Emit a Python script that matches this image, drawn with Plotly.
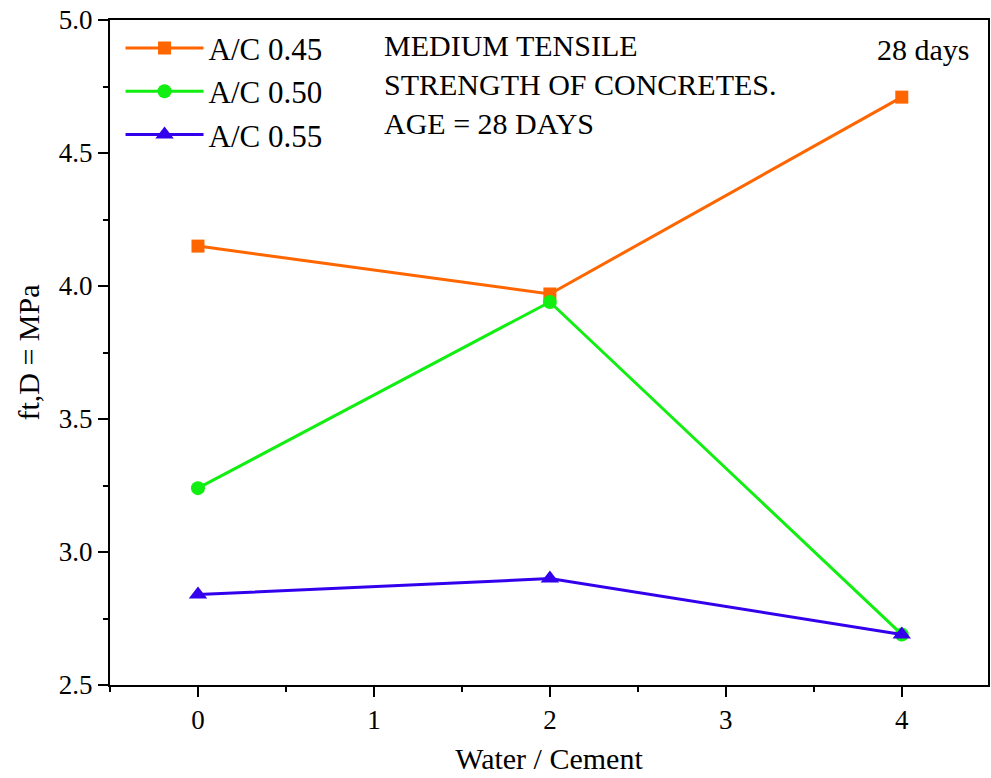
import plotly.graph_objects as go

x_vals = [0, 2, 4]
ac045 = [4.15, 3.97, 4.71]
ac050 = [3.24, 3.94, 2.69]
ac055 = [2.84, 2.90, 2.69]
series_names = ["A/C 0.45", "A/C 0.50", "A/C 0.55"]
x_ticks = [0, 1, 2, 3, 4]
y_ticks = [2.5, 3.0, 3.5, 4.0, 4.5, 5.0]

FONT = "Liberation Serif, Times New Roman, serif"

fig = go.Figure()
fig.add_trace(go.Scatter(x=x_vals, y=ac045, name=series_names[0], mode="lines+markers",
                         line=dict(color="#FF6600", width=3),
                         marker=dict(symbol="square", size=13, color="#FF6600")))
fig.add_trace(go.Scatter(x=x_vals, y=ac050, name=series_names[1], mode="lines+markers",
                         line=dict(color="#11EE11", width=3),
                         marker=dict(symbol="circle", size=14, color="#11EE11")))
fig.add_trace(go.Scatter(x=x_vals, y=ac055, name=series_names[2], mode="lines+markers",
                         line=dict(color="#3300EE", width=3),
                         marker=dict(symbol="triangle-up", size=16, color="#3300EE")))

axis_common = dict(showline=True, linecolor="black", linewidth=2, mirror=True,
                   ticks="outside", ticklen=10, tickwidth=2, tickcolor="black",
                   showgrid=False, zeroline=False,
                   tickfont=dict(family=FONT, size=27, color="black"),
                   minor=dict(ticks="outside", ticklen=5, tickwidth=2, tickcolor="black"))

fig.update_xaxes(range=[-0.5, 4.49], tickvals=x_ticks, dtick=1,
                 title=dict(text="Water / Cement", font=dict(family=FONT, size=30, color="black"), standoff=14),
                 minor_dtick=0.5, **axis_common)
fig.update_yaxes(range=[2.5, 5.0], tickvals=y_ticks, ticktext=[f"{v:.1f}" for v in y_ticks], dtick=0.5,
                 title=dict(text="ft,D = MPa", font=dict(family=FONT, size=30, color="black"), standoff=10),
                 minor_dtick=0.25, **axis_common)

fig.add_annotation(xref="paper", yref="paper", x=0.31, y=0.99, xanchor="left", yanchor="top",
                   text="MEDIUM TENSILE<br>STRENGTH OF CONCRETES.<br>AGE = 28 DAYS",
                   showarrow=False, align="left",
                   font=dict(family=FONT, size=30, color="black"))
fig.add_annotation(xref="paper", yref="paper", x=0.982, y=0.955, xanchor="right", yanchor="middle",
                   text="28 days", showarrow=False,
                   font=dict(family=FONT, size=30, color="black"))

fig.update_layout(
    width=991, height=778,
    margin=dict(l=110, r=1, t=20, b=93),
    paper_bgcolor="white", plot_bgcolor="white",
    showlegend=True,
    legend=dict(x=0.012, y=0.998, xanchor="left", yanchor="top",
                font=dict(family=FONT, size=31, color="black"),
                bgcolor="rgba(0,0,0,0)", itemwidth=78, tracegroupgap=4),
)

fig.write_html("out.html", config={"displayModeBar": False},
               post_script="document.body.style.margin='0';document.body.style.overflow='hidden';")
